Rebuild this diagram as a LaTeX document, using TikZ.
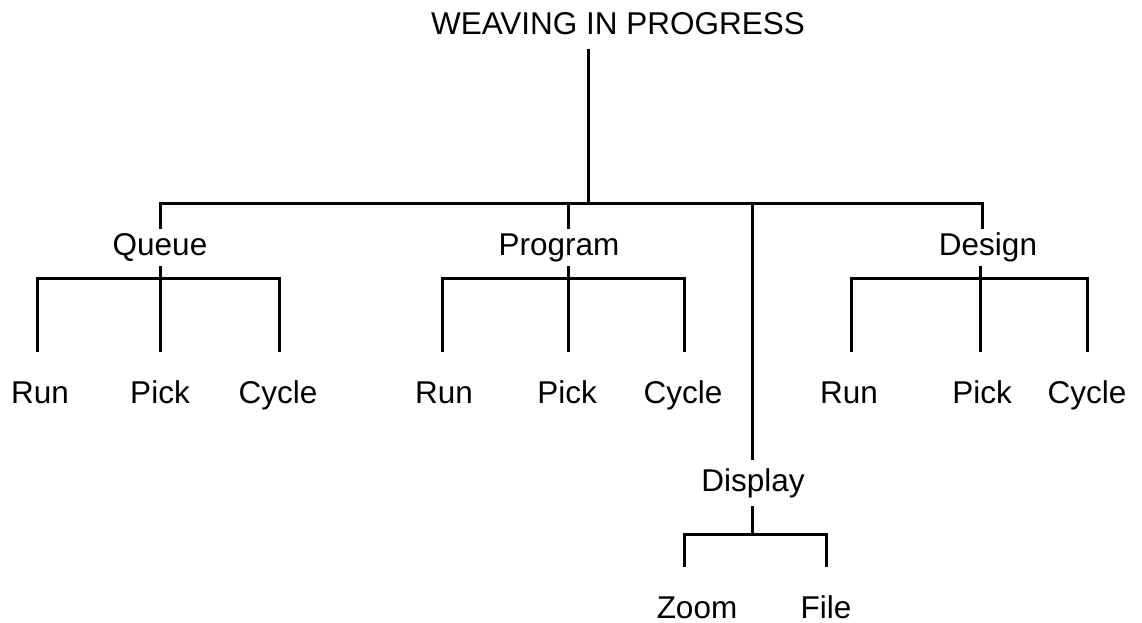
\documentclass[tikz,border=0pt]{standalone}
\usepackage{fontspec}
\setmainfont{Liberation Sans}
\usetikzlibrary{positioning}
\tikzset{
  txt/.style={font=\fontsize{31.5}{38}\selectfont, anchor=base, inner sep=0pt,
              text height=22pt, text depth=6pt, outer ysep=#1},
  txt/.default=4.5pt,
  leaf/.style={txt=29pt},
  wire/.style={line width=3pt, line join=miter},
}
\begin{document}
\begin{tikzpicture}[x=1pt, y=-1pt]
  \useasboundingbox (0,0) rectangle (1142,623);
  % root and first level
  \node[txt=8pt] (title) at (618,35) {WEAVING IN PROGRESS};
  \node[txt] (queue) at (160,255) {Queue};
  \node[txt] (program) at (559,255) {Program};
  \node[txt=9pt] (display) at (753,491) {Display};
  \node[txt] (design) at (988,255) {Design};
  % leaves
  \node[leaf] (qrun) at (40,403) {Run};
  \node[leaf] (qpick) at (160,403) {Pick};
  \node[leaf] (qcycle) at (278,403) {Cycle};
  \node[leaf] (prun) at (444,403) {Run};
  \node[leaf] (ppick) at (567,403) {Pick};
  \node[leaf] (pcycle) at (683,403) {Cycle};
  \node[leaf] (drun) at (849,403) {Run};
  \node[leaf] (dpick) at (982,403) {Pick};
  \node[leaf] (dcycle) at (1087,403) {Cycle};
  \node[leaf=29pt, text depth=0pt] (zoom) at (697,618) {Zoom};
  \node[leaf=29pt, text depth=0pt] (file) at (826,618) {File};
  % bar corners
  \coordinate (root) at (588,203);
  \coordinate (tq) at (160,203);
  \coordinate (tp) at (568,203);
  \coordinate (ts) at (752,203);
  \coordinate (tg) at (982,203);
  \coordinate (qL) at (37,278);  \coordinate (qR) at (279,278);
  \coordinate (pL) at (442,278); \coordinate (pR) at (684,278);
  \coordinate (gL) at (851,278); \coordinate (gR) at (1087,278);
  \coordinate (sL) at (684,534); \coordinate (sR) at (826,534);
  % top level
  \draw[wire] (title.south -| root) -- (root);
  \draw[wire] (queue.north -| tq) -- (tq) -- (tg) -- (design.north -| tg);
  \draw[wire] (tp) -- (program.north -| tp);
  \draw[wire] (ts) -- (display.north -| ts);
  % Queue
  \draw[wire] (qrun.north -| qL) -- (qL) -- (qR) -- (qcycle.north -| qR);
  \draw[wire] (queue.south) -- (qpick.north -| queue.south);
  % Program
  \draw[wire] (prun.north -| pL) -- (pL) -- (pR) -- (pcycle.north -| pR);
  \draw[wire] (program.south -| tp) -- (ppick.north -| tp);
  % Design
  \draw[wire] ([xshift=-8pt]design.south) -- ([xshift=-2pt]dpick.north);
  \draw[wire] (drun.north -| gL) -- (gL) -- (gR) -- (dcycle.north -| gR);
  % Display
  \draw[wire] (zoom.north -| sL) -- (sL) -- (sR) -- (file.north -| sR);
  \draw[wire] (display.south -| ts) -- (ts |- sL);
\end{tikzpicture}
\end{document}
